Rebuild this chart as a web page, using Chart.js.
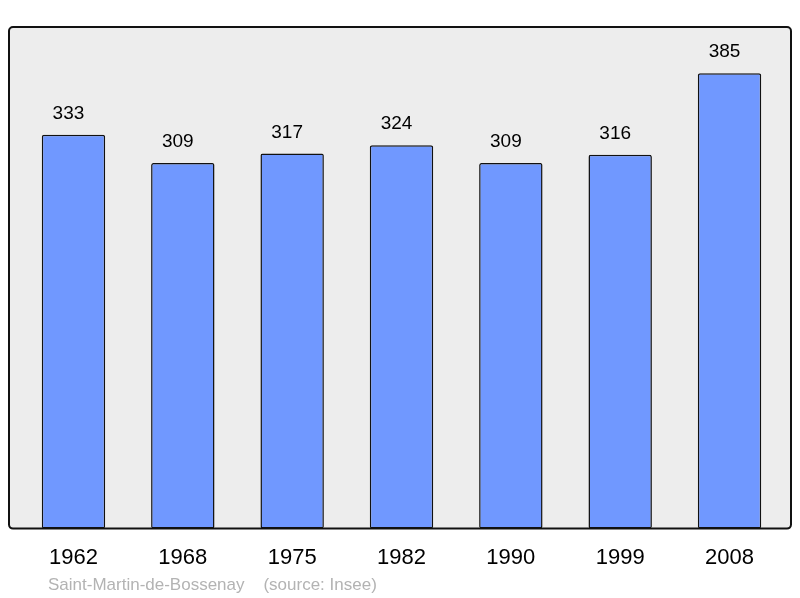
<!DOCTYPE html>
<html>
<head>
<meta charset="utf-8">
<script src="https://cdn.jsdelivr.net/npm/chart.js@4/dist/chart.umd.min.js"></script>
<style>
  html, body { margin: 0; padding: 0; background: #fff; }
  #wrap { width: 800px; height: 598px; }
</style>
</head>
<body>
<div id="wrap"><canvas id="popChart" width="800" height="598"></canvas></div>
<script>
const years = ['1962', '1968', '1975', '1982', '1990', '1999', '2008'];
const population = [333, 309, 317, 324, 309, 316, 385];
const footerText = 'Saint-Martin-de-Bossenay    (source: Insee)';

// frame behind the bars + value labels + footer
const framePlugin = {
  id: 'frame',
  beforeDatasetsDraw(chart) {
    const a = chart.chartArea;
    const ctx = chart.ctx;
    const x0 = 9, y0 = a.top, x1 = 791, y1 = a.bottom;
    ctx.save();
    ctx.beginPath();
    ctx.roundRect(x0, y0, x1 - x0, y1 - y0, 4);
    ctx.fillStyle = '#ededed';
    ctx.fill();
    ctx.lineWidth = 2;
    ctx.strokeStyle = '#111';
    ctx.stroke();
    ctx.restore();
  },
  afterDatasetsDraw(chart) {
    const ctx = chart.ctx;
    const meta = chart.getDatasetMeta(0);
    ctx.save();
    ctx.font = '19px "Liberation Sans", Arial, sans-serif';
    ctx.fillStyle = '#000';
    ctx.textAlign = 'center';
    ctx.textBaseline = 'alphabetic';
    meta.data.forEach((bar, i) => {
      // labels sit a little left of the bar centre in the original
      ctx.fillText(String(population[i]), bar.x - 5, bar.y - 16);
    });
    ctx.font = '17px "Liberation Sans", Arial, sans-serif';
    ctx.fillStyle = '#b3b3b3';
    ctx.textAlign = 'left';
    ctx.fillText(footerText, 48, 590);
    ctx.restore();
  }
};

new Chart(document.getElementById('popChart'), {
  type: 'bar',
  data: {
    labels: years,
    datasets: [{
      data: population,
      backgroundColor: '#7098ff',
      borderColor: '#111',
      borderWidth: 1.5,
      borderRadius: 2,
      borderSkipped: false,
      categoryPercentage: 1,
      barPercentage: 0.58
    }]
  },
  options: {
    responsive: false,
    animation: false,
    layout: { padding: { left: 18.8, right: 15.8, top: 27, bottom: 11 } },
    plugins: { legend: { display: false }, tooltip: { enabled: false } },
    scales: {
      x: {
        grid: { display: false, drawTicks: false },
        border: { display: false },
        ticks: {
          color: '#000',
          padding: 16,
          maxRotation: 0,
          font: { family: '"Liberation Sans", Arial, sans-serif', size: 22 }
        }
      },
      y: {
        display: false,
        min: 0,
        max: 424
      }
    }
  },
  plugins: [framePlugin]
});
</script>
</body>
</html>
